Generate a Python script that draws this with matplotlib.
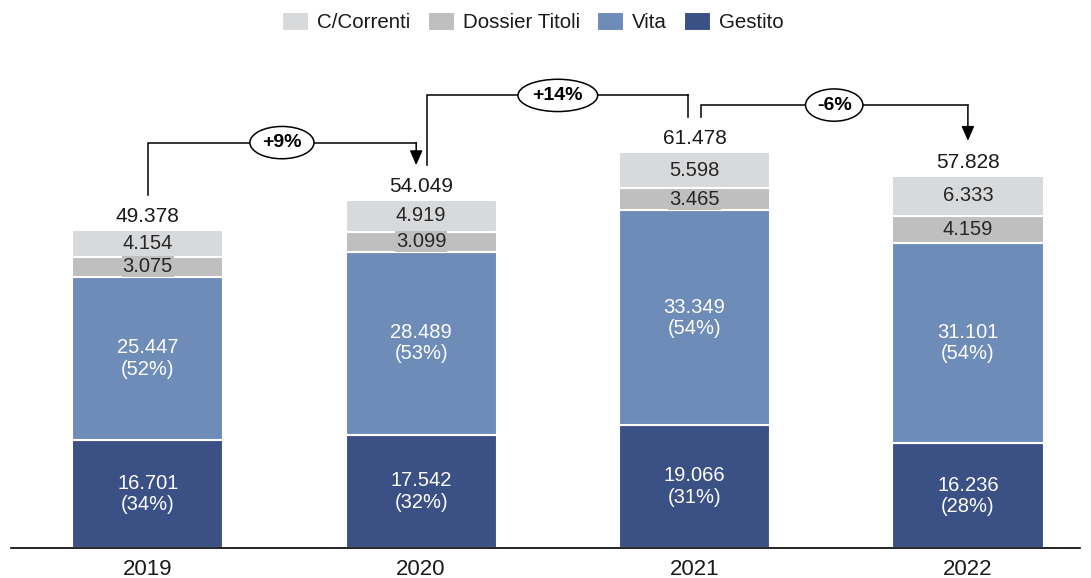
import matplotlib.pyplot as plt
import numpy as np

plt.rcParams['font.family'] = ['Liberation Sans', 'DejaVu Sans']

# ---------- DATA ----------
years = ["2019", "2020", "2021", "2022"]
gestito = [16701, 17542, 19066, 16236]
vita = [25447, 28489, 33349, 31101]
dossier = [3075, 3099, 3465, 4159]
correnti = [4154, 4919, 5598, 6333]
totals = [49378, 54049, 61478, 57828]
growth_labels = ["+9%", "+14%", "-6%"]

series_names = ["C/Correnti", "Dossier Titoli", "Vita", "Gestito"]
COLORS = {"Gestito": "#3B5084", "Vita": "#6D8CB8", "Dossier Titoli": "#BFBFBF", "C/Correnti": "#D8D9DB"}


def fmt(v):
    return f"{v:,}".replace(",", ".")


fig = plt.figure(figsize=(10.91, 5.78), dpi=100)
ax = fig.add_axes([11 / 1091, 30 / 578, 1069 / 1091, 548 / 578])

x = np.arange(len(years))
w = 0.553
stack = [("Gestito", gestito), ("Vita", vita), ("Dossier Titoli", dossier), ("C/Correnti", correnti)]
bottom = np.zeros(len(years))
handles = {}
for name, vals in stack:
    vals = np.array(vals)
    b = ax.bar(x, vals, w, bottom=bottom, color=COLORS[name], edgecolor="white", linewidth=1.5, label=name)
    handles[name] = b
    for i, v in enumerate(vals):
        yc = bottom[i] + v / 2
        if name in ("Gestito", "Vita"):
            pct = round(v / totals[i] * 100)
            ax.text(x[i], yc, f"{fmt(v)}\n({pct}%)", ha="center", va="center", color="white",
                    fontsize=14.5, linespacing=1.15)
        else:
            ax.text(x[i], yc, fmt(v), ha="center", va="center", color="#262626", fontsize=14.5,
                    bbox=dict(boxstyle="square,pad=0.05", fc=COLORS[name], ec="none"))
    bottom += vals

for i, t in enumerate(totals):
    ax.text(x[i], t + 1250, fmt(t), ha="center", va="baseline", fontsize=15, color="#1a1a1a")

# growth brackets
rises = [8900, 8800, 7300]
start_gap = 5400
x_off = [0.0, 0.022, 0.022]
end_off = [-0.018, -0.022, 0.0]
for i, lab in enumerate(growth_labels):
    x0 = x[i] + x_off[i]
    x1 = x[i + 1] + end_off[i]
    y0 = totals[i] + start_gap
    y1 = totals[i + 1] + start_gap
    ytop = max(totals[i], totals[i + 1]) + rises[i]
    ax.plot([x0, x0, x1], [y0, ytop, ytop], color="black", lw=1.1, solid_joinstyle="miter")
    if i == 1:
        ax.plot([x1, x1], [ytop, y1], color="black", lw=1.1)
    else:
        ax.annotate("", xy=(x1, y1), xytext=(x1, ytop),
                    arrowprops=dict(arrowstyle="-|>,head_length=0.8,head_width=0.35", color="black",
                                    lw=1.1, shrinkA=0, shrinkB=0, mutation_scale=11))
    ax.text((x0 + x1) / 2, ytop, lab, ha="center", va="center", fontsize=14, fontweight="bold",
            bbox=dict(boxstyle="ellipse,pad=0.15", fc="white", ec="black", lw=1.1))

ax.set_xlim(-0.5, 3.41)
ax.set_ylim(0, 548 / 6.44 * 1000)
ax.set_xticks(x)
ax.set_xticklabels(years, fontsize=16, color="#1a1a1a")
ax.tick_params(axis="x", length=0, pad=8)
ax.set_yticks([])
for s in ["top", "left", "right"]:
    ax.spines[s].set_visible(False)
ax.spines["bottom"].set_linewidth(1.2)

fig.legend([handles[n] for n in series_names], series_names, loc="center", ncol=4,
           bbox_to_anchor=(533 / 1091, 1 - 22 / 578), frameon=False, fontsize=14.8,
           handlelength=1.32, handleheight=1.07, handletextpad=0.39, columnspacing=0.83,
           labelcolor="#1a1a1a")

fig.savefig("out.png", dpi=100)
